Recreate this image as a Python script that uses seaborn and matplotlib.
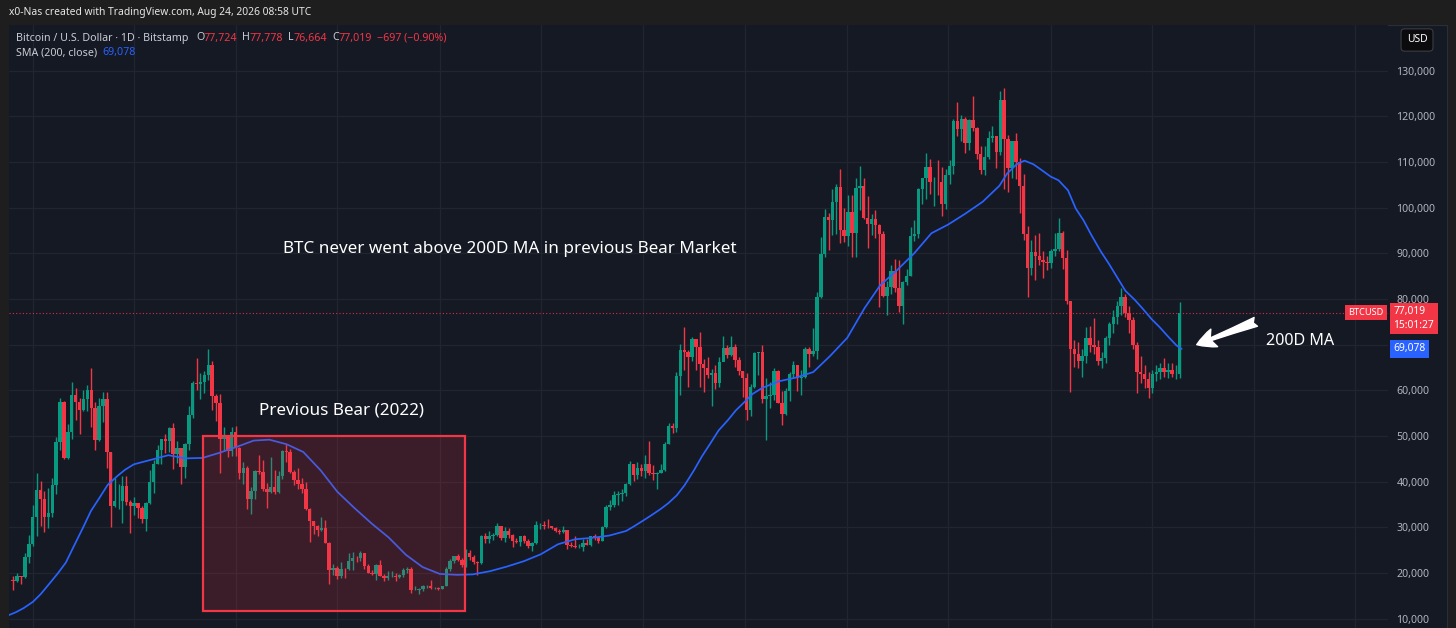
import numpy as np
import pandas as pd
import matplotlib
matplotlib.use("Agg")
import matplotlib.pyplot as plt
import matplotlib.dates as mdates
from matplotlib.patches import Rectangle
from matplotlib.ticker import FuncFormatter
import seaborn as sns

# === DANE: tygodniowe świece BTC (tys. USD), tydzień kończy się w dacie z date_range ===
first_open = 18.4

close_2020 = [18.2, 19.4, 19.2, 23.5, 26.3, 32.2]
high_2020 = [19.4, 19.9, 19.4, 24.3, 28.4, 34.8]
low_2020 = [16.3, 18.0, 17.6, 19.0, 22.3, 25.9]

close_2021 = [38.2, 36.1, 32.3, 33.1, 39.3, 48.6, 57.4, 45.2, 50.9, 59.0, 57.5, 55.8, 58.2,
              60.0, 56.2, 49.1, 56.6, 58.2, 46.4, 34.7, 35.7, 35.8, 39.1, 35.5, 34.7, 35.3,
              34.2, 31.8, 35.4, 39.9, 43.8, 47.0, 49.3, 48.8, 51.8, 46.0, 47.3, 43.2, 48.2,
              54.6, 61.5, 61.3, 61.9, 63.3, 65.5, 58.7, 57.2, 49.4, 50.1, 46.7, 50.8, 47.3]
high_2021 = [41.9, 40.1, 37.9, 38.6, 40.9, 49.7, 58.3, 57.6, 52.6, 61.8, 60.6, 58.4, 60.1,
             61.2, 64.9, 57.4, 58.4, 59.6, 59.6, 46.6, 40.9, 39.5, 41.3, 41.3, 36.0, 36.6,
             35.1, 34.6, 35.5, 42.5, 44.8, 48.1, 49.4, 50.5, 52.0, 52.9, 48.8, 47.3, 48.5,
             56.6, 62.0, 67.0, 63.7, 64.3, 69.0, 66.4, 59.3, 59.2, 51.9, 50.2, 51.9, 52.1]
low_2021 = [28.0, 30.4, 28.9, 29.9, 32.3, 37.4, 47.0, 44.9, 45.0, 49.3, 53.5, 50.4, 55.5,
            55.5, 52.0, 47.0, 48.8, 53.0, 42.9, 30.0, 34.5, 34.0, 31.0, 34.8, 28.8, 32.7,
            32.1, 31.0, 29.3, 35.2, 37.5, 43.8, 43.9, 46.3, 46.5, 42.8, 44.0, 39.6, 40.8,
            46.9, 54.0, 60.0, 58.0, 59.4, 62.3, 55.6, 53.2, 42.0, 46.8, 45.5, 45.6, 45.7]

close_2022 = [41.8, 43.1, 36.3, 37.9, 42.4, 42.2, 38.4, 37.7, 38.8, 37.8, 41.3, 46.8, 46.4,
              42.2, 40.4, 39.5, 38.5, 34.1, 31.3, 30.3, 29.4, 29.9, 26.6, 20.6, 21.0, 19.3,
              20.9, 20.8, 22.6, 23.3, 23.2, 24.3, 21.5, 20.0, 19.8, 21.8, 19.4, 18.8, 19.3,
              19.4, 19.2, 19.6, 20.6, 20.9, 16.3, 16.3, 16.5, 17.1, 17.1, 16.7, 16.8, 16.6]
high_2022 = [47.5, 44.4, 43.5, 38.9, 42.6, 45.8, 44.7, 39.8, 45.4, 42.5, 42.3, 46.9, 48.2,
             47.2, 42.5, 42.9, 40.8, 40.0, 34.2, 31.4, 30.6, 32.2, 31.7, 26.8, 21.9, 21.5,
             22.4, 21.0, 24.3, 24.6, 23.7, 24.9, 24.4, 22.0, 20.6, 21.9, 22.8, 19.7, 20.4,
             20.4, 19.9, 19.7, 21.0, 21.4, 21.4, 17.2, 16.8, 17.3, 17.4, 18.4, 17.0, 16.9]
low_2022 = [40.6, 39.6, 34.0, 32.9, 36.3, 41.7, 38.0, 34.3, 37.5, 37.2, 37.6, 40.5, 44.2,
            41.9, 39.2, 38.5, 37.6, 33.8, 26.7, 28.6, 28.0, 29.3, 26.5, 17.6, 19.6, 18.7,
            19.0, 18.9, 20.7, 20.7, 22.4, 22.7, 20.8, 19.9, 19.6, 18.5, 19.3, 18.2, 18.5,
            19.2, 18.2, 18.9, 19.2, 20.1, 15.6, 16.2, 15.5, 16.0, 16.8, 16.5, 16.4, 16.3]

close_2023 = [17.1, 20.9, 22.7, 23.7, 22.9, 21.8, 24.3, 23.6, 22.4, 22.1, 28.0, 27.5, 28.2,
              28.3, 30.3, 27.6, 29.2, 28.4, 27.0, 26.8, 28.0, 27.1, 25.9, 26.5, 30.5, 30.6,
              30.3, 30.2, 29.9, 29.3, 29.0, 29.4, 26.1, 26.0, 25.8, 25.8, 26.5, 26.2, 28.0,
              27.9, 27.1, 30.0, 34.5, 35.0, 37.1, 37.3, 37.5, 39.5, 43.8, 41.4, 43.0, 42.3]
high_2023 = [17.2, 21.3, 23.0, 23.8, 24.2, 23.3, 25.2, 25.1, 23.9, 22.6, 28.4, 28.8, 29.2,
             28.8, 31.0, 30.4, 30.0, 29.8, 28.6, 27.6, 28.2, 28.4, 27.4, 26.8, 31.4, 31.0,
             31.4, 31.8, 30.4, 30.0, 29.7, 30.2, 29.5, 26.8, 28.1, 26.4, 27.4, 27.5, 28.1,
             28.6, 27.9, 30.3, 35.0, 35.9, 38.0, 37.9, 38.4, 39.8, 44.5, 43.9, 44.4, 43.8]
low_2023 = [16.6, 17.1, 20.4, 22.3, 22.6, 21.4, 21.4, 22.8, 21.9, 19.6, 21.9, 26.6, 26.5,
            27.2, 28.2, 27.2, 26.9, 27.7, 25.8, 26.6, 25.9, 26.5, 25.4, 24.8, 26.3, 29.6,
            29.7, 29.9, 29.6, 29.0, 28.6, 28.8, 25.2, 25.8, 25.4, 25.4, 24.9, 26.1, 26.0,
            27.3, 26.6, 27.1, 29.9, 33.9, 34.5, 34.8, 35.7, 36.9, 39.2, 40.2, 40.6, 41.3]

close_2024 = [43.9, 41.8, 41.6, 42.0, 42.6, 48.3, 52.1, 51.7, 63.1, 68.9, 68.3, 67.2, 71.3,
              69.4, 65.7, 64.9, 63.4, 63.9, 61.5, 66.3, 69.3, 67.8, 69.6, 66.6, 64.2, 62.7,
              55.8, 60.8, 68.2, 68.3, 58.1, 58.7, 58.9, 64.2, 57.3, 54.8, 59.9, 63.6, 65.6,
              62.8, 62.9, 69.0, 68.0, 68.7, 80.4, 89.9, 97.9, 97.2, 101.2, 104.5, 95.2, 93.7, 99.0]
high_2024 = [45.9, 49.0, 43.6, 42.2, 43.9, 48.6, 52.8, 52.9, 64.0, 70.1, 73.8, 68.9, 71.7,
             71.3, 72.8, 66.8, 67.2, 64.7, 65.5, 67.4, 71.9, 70.0, 71.9, 70.2, 67.2, 64.3,
             63.8, 61.3, 68.4, 68.5, 70.0, 62.7, 61.8, 65.0, 64.5, 59.8, 60.6, 64.1, 66.5,
             65.6, 64.5, 69.4, 69.5, 73.6, 81.5, 93.5, 99.6, 98.9, 104.0, 105.2, 108.4, 99.9, 102.7]
low_2024 = [40.8, 41.5, 40.3, 38.5, 41.8, 42.3, 48.2, 50.6, 50.9, 59.0, 64.5, 60.8, 66.5,
            64.5, 60.7, 59.6, 62.8, 56.6, 60.2, 60.8, 66.6, 67.1, 67.6, 65.1, 63.4, 58.5,
            53.5, 54.3, 60.6, 63.4, 57.2, 49.1, 56.1, 57.9, 57.2, 52.5, 54.6, 57.6, 62.7,
            59.8, 58.9, 62.6, 65.1, 67.5, 66.8, 80.2, 89.3, 90.8, 94.0, 94.2, 92.2, 92.5, 91.5]

close_2025 = [94.5, 104.4, 104.7, 97.7, 96.5, 97.5, 96.3, 94.2, 80.7, 82.6, 86.1, 82.4, 78.4,
              83.7, 85.0, 93.7, 94.3, 104.1, 106.4, 109.0, 105.7, 105.7, 105.6, 100.9, 107.1, 109.2,
              119.0, 117.3, 119.4, 114.2, 119.3, 117.4, 111.8, 108.3, 111.1, 115.3, 115.7, 112.2, 123.5,
              115.1, 108.6, 114.5, 110.0, 104.7, 94.2, 86.8, 90.4, 89.5, 88.5, 88.0, 87.8, 90.5]
high_2025 = [102.7, 106.4, 109.1, 106.4, 102.5, 98.6, 99.5, 96.5, 95.0, 84.0, 87.5, 88.8, 88.5,
             84.0, 86.5, 95.8, 97.4, 104.3, 106.5, 111.9, 110.7, 106.8, 110.4, 108.9, 108.5, 110.5,
             119.5, 123.2, 120.2, 119.8, 119.4, 124.5, 117.6, 113.5, 113.4, 116.8, 117.9, 115.8, 125.6,
             126.2, 116.0, 114.6, 116.4, 110.8, 107.4, 96.0, 93.0, 94.0, 94.4, 90.5, 89.5, 91.0]
low_2025 = [89.3, 89.3, 99.5, 97.5, 91.2, 94.1, 93.4, 78.2, 80.5, 76.6, 81.2, 81.6, 77.2,
            74.5, 83.0, 85.1, 92.8, 93.4, 100.8, 102.0, 103.1, 100.4, 102.7, 98.2, 99.6, 105.2,
            107.4, 115.7, 114.7, 112.0, 112.7, 116.8, 110.6, 107.3, 107.2, 110.6, 114.4, 108.6, 111.6,
            104.0, 103.5, 106.6, 106.3, 98.9, 93.0, 80.5, 85.2, 84.2, 87.5, 84.6, 86.4, 86.8]

close_2026 = [91.0, 94.5, 89.0, 79.5, 69.0, 68.0, 66.5, 67.5, 71.5, 70.0, 69.5, 66.5, 67.0,
              71.5, 74.5, 76.0, 78.5, 80.5, 77.0, 75.5, 70.0, 64.0, 63.5, 62.5, 60.5, 63.5,
              64.0, 65.0, 64.0, 64.5, 63.5, 63.5, 77.0]
high_2026 = [94.4, 97.7, 95.0, 90.7, 79.5, 71.0, 70.5, 69.0, 73.9, 74.0, 75.8, 71.0, 68.5,
             72.0, 75.0, 77.5, 79.5, 82.5, 81.0, 78.5, 76.0, 70.5, 67.5, 65.5, 64.0, 64.5,
             65.5, 66.0, 67.0, 66.0, 66.0, 65.5, 79.3]
low_2026 = [89.5, 90.5, 86.5, 79.0, 59.7, 65.2, 65.0, 62.9, 66.0, 68.5, 68.0, 65.5, 65.0,
            66.0, 70.0, 72.5, 74.5, 76.5, 76.0, 72.5, 69.0, 59.4, 61.5, 60.5, 58.3, 59.5,
            62.0, 62.5, 63.0, 62.8, 63.0, 62.5, 62.7]

# SMA 200 (tys. USD)
sma_dates = ["2020-11-19", "2020-12-01", "2020-12-15", "2021-01-01", "2021-01-15", "2021-02-01",
             "2021-02-15", "2021-03-01", "2021-03-15", "2021-04-01", "2021-04-15", "2021-05-01",
             "2021-05-15", "2021-06-01", "2021-06-15", "2021-07-01", "2021-08-01", "2021-09-01",
             "2021-10-01", "2021-11-01", "2021-12-01", "2022-01-01", "2022-02-01", "2022-03-01",
             "2022-04-01", "2022-05-01", "2022-06-01", "2022-07-01", "2022-08-01", "2022-09-01",
             "2022-10-01", "2022-11-01", "2022-12-01", "2023-01-01", "2023-02-01", "2023-03-01",
             "2023-04-01", "2023-05-01", "2023-06-01", "2023-07-01", "2023-08-01", "2023-09-01",
             "2023-10-01", "2023-11-01", "2023-12-01", "2023-12-15", "2024-01-01", "2024-01-15",
             "2024-02-01", "2024-02-15", "2024-03-01", "2024-03-15", "2024-04-01", "2024-04-15",
             "2024-05-01", "2024-05-15", "2024-06-01", "2024-06-15", "2024-07-01", "2024-07-15",
             "2024-08-01", "2024-09-01", "2024-10-01", "2024-11-01", "2024-12-01", "2025-01-01",
             "2025-02-01", "2025-03-01", "2025-04-01", "2025-05-01", "2025-06-01", "2025-07-01",
             "2025-08-01", "2025-09-01", "2025-10-01", "2025-10-15", "2025-11-01", "2025-11-15",
             "2025-12-01", "2025-12-15", "2026-01-01", "2026-01-15", "2026-02-01", "2026-02-15",
             "2026-03-01", "2026-03-15", "2026-04-01", "2026-04-15", "2026-05-01", "2026-05-15",
             "2026-06-01", "2026-06-15", "2026-07-01", "2026-07-15", "2026-08-01", "2026-08-15",
             "2026-08-24"]
sma_vals = [10.8, 11.4, 12.3, 13.7, 15.4, 17.9,
            20.0, 22.3, 25.8, 30.0, 33.6, 36.6,
            39.3, 41.2, 42.6, 43.8, 44.8, 45.8,
            45.1, 45.2, 46.3, 47.6, 49.0, 49.2,
            48.2, 46.5, 42.5, 37.8, 34.2, 30.8,
            27.8, 24.0, 21.3, 19.8, 19.6, 19.7,
            20.4, 21.4, 22.6, 24.1, 26.3, 27.4,
            27.7, 28.2, 29.2, 30.2, 31.5, 32.6,
            34.0, 35.3, 37.0, 39.2, 42.5, 45.5,
            48.5, 51.2, 53.5, 55.6, 57.5, 59.2,
            60.5, 62.0, 62.8, 64.0, 67.5, 71.5,
            78.0, 83.0, 86.4, 90.0, 94.4, 96.3,
            98.7, 101.3, 104.8, 107.5, 109.5, 110.3,
            109.5, 108.3, 106.8, 106.0, 103.8, 99.8,
            97.2, 94.0, 90.4, 87.8, 84.6, 81.8,
            79.8, 77.9, 75.6, 73.9, 71.6, 69.8,
            69.078]

last_close = 77.019
last_sma = 69.078
grid_dates = ["2021-01-01", "2021-07-01", "2022-01-01", "2022-07-01", "2023-01-01", "2023-07-01",
              "2024-01-01", "2024-07-01", "2025-01-01", "2025-07-01", "2026-01-01", "2026-07-01",
              "2027-01-01", "2027-07-01"]
price_ticks = [10, 20, 30, 40, 50, 60, 70, 80, 90, 100, 110, 120, 130]

# === KOLORY / STYL ===
W, H = 1456, 628
BG = "#151924"
FRAME = "#1e1e1e"
GRID = "#21252f"
UP = "#089981"
DOWN = "#f23645"
BLUE = "#2962ff"
TXT = "#b2b5be"

sns.set_theme(style="dark", rc={"axes.facecolor": BG, "figure.facecolor": FRAME,
                                "axes.edgecolor": BG, "grid.color": GRID})
plt.rcParams["font.family"] = ["Noto Sans", "DejaVu Sans"]

close = np.array(close_2020 + close_2021 + close_2022 + close_2023 + close_2024 + close_2025 + close_2026)
high = np.array(high_2020 + high_2021 + high_2022 + high_2023 + high_2024 + high_2025 + high_2026)
low = np.array(low_2020 + low_2021 + low_2022 + low_2023 + low_2024 + low_2025 + low_2026)
opn = np.r_[first_open, close[:-1]]

week_end = pd.date_range(end="2026-08-24", periods=len(close), freq="7D")
xc = mdates.date2num((week_end - pd.Timedelta(hours=84)).to_pydatetime())
up = close >= opn
cols = np.where(up, UP, DOWN)

fig = plt.figure(figsize=(W / 100, H / 100), dpi=100)
# tło panelu z osią cen (pod osiami)
fig.patches.append(Rectangle((9 / W, 0), (1447 - 9) / W, (H - 25) / H, transform=fig.transFigure,
                             facecolor=BG, edgecolor="#2a2e39", lw=0.8, zorder=-10))
ax = fig.add_axes([9 / W, 0, (1388 - 9) / W, (H - 25) / H], zorder=1)

# === ŚWIECE ===
ax.vlines(xc, low, high, colors=cols, lw=1.0, zorder=2)
ax.bar(xc, np.abs(close - opn), bottom=np.minimum(close, opn), width=6.2, color=cols, linewidth=0, zorder=2.1)

# === SMA 200 ===
sma_x = mdates.date2num(pd.to_datetime(sma_dates).to_pydatetime())
sns.lineplot(x=sma_x, y=sma_vals, color=BLUE, lw=1.25, ax=ax, zorder=3)

# linia ostatniej ceny
ax.axhline(last_close, color=DOWN, ls=(0, (1, 2)), lw=0.8, alpha=0.85, zorder=1.5)

# prostokąt "Previous Bear"
r0 = mdates.date2num(pd.Timestamp("2021-11-02"))
r1 = mdates.date2num(pd.Timestamp("2023-02-15"))
ax.add_patch(Rectangle((r0, 11.7), r1 - r0, 50.0 - 11.7, facecolor=(0.95, 0.21, 0.27, 0.17),
                       edgecolor=DOWN, lw=1.6, zorder=4))

# === OSIE ===
t0 = mdates.date2num(pd.Timestamp("2021-01-01"))
px_day = 1322 / 2372
ax.set_xlim(t0 - 24 / px_day, t0 + (1388 - 33) / px_day)
ax.set_ylim(7.96, 140.0)
ax.set_xticks(mdates.date2num(pd.to_datetime(grid_dates).to_pydatetime()))
ax.set_yticks(price_ticks)
ax.yaxis.set_major_formatter(FuncFormatter(lambda v, p: f"{v * 1000:,.0f}"))
ax.yaxis.tick_right()
ax.tick_params(axis="y", length=0, pad=6, labelsize=7.6, labelcolor=TXT)
ax.tick_params(axis="x", length=0, labelbottom=False)
ax.grid(True, color=GRID, lw=0.9)
ax.set_xlabel("")
ax.set_ylabel("")
for s in ax.spines.values():
    s.set_visible(False)

# === ETYKIETY PO PRAWEJ ===
ax.annotate("BTCUSD", xy=(1, last_close), xycoords=("axes fraction", "data"), xytext=(-3, 0),
            textcoords="offset points", ha="right", va="center", color="white", fontsize=6.6,
            fontweight="bold", bbox=dict(boxstyle="square,pad=0.35", fc=DOWN, ec="none"), zorder=6,
            annotation_clip=False)
ax.annotate("77,019\n15:01:27", xy=(1, last_close), xycoords=("axes fraction", "data"), xytext=(4, 4.5),
            textcoords="offset points", ha="left", va="top", color="white", fontsize=7.4,
            linespacing=1.3, bbox=dict(boxstyle="square,pad=0.35", fc=DOWN, ec="none"), zorder=6,
            annotation_clip=False)
ax.annotate("69,078", xy=(1, last_sma), xycoords=("axes fraction", "data"), xytext=(4, 0),
            textcoords="offset points", ha="left", va="center", color="white", fontsize=7.4,
            bbox=dict(boxstyle="square,pad=0.35", fc=BLUE, ec="none"), zorder=6,
            annotation_clip=False)

# === ADNOTACJE ===
d = lambda s: mdates.date2num(pd.Timestamp(s))
ax.text(d("2023-05-06"), 91.0, "BTC never went above 200D MA in previous Bear Market", color="white",
        fontsize=12.3, ha="center", va="center", zorder=6)
ax.text(d("2022-07-09"), 55.5, "Previous Bear (2022)", color="white", fontsize=12.3,
        ha="center", va="center", zorder=6)
ax.text(d("2027-03-25"), 70.8, "200D MA", color="white", fontsize=11.6, ha="center", va="center", zorder=6)
ax.annotate("", xy=(d("2026-09-20"), 70.0), xytext=(d("2027-01-04"), 75.0),
            arrowprops=dict(arrowstyle="fancy,head_length=0.9,head_width=0.9,tail_width=0.45",
                            fc="white", ec="white", mutation_scale=15, shrinkA=0, shrinkB=0), zorder=6)

# === NAGŁÓWEK I LEGENDA ===
def ftxt(xp, yp, s, **kw):
    fig.text(xp / W, 1 - yp / H, s, va="center", ha="left", **kw)

ftxt(9, 12, "x0-Nas created with TradingView.com, Aug 24, 2026 08:58 UTC", color="#e6e6e6",
     fontsize=7.4, fontweight="medium")
LEG = 7.7
ftxt(16, 38, "Bitcoin / U.S. Dollar · 1D · Bitstamp", color="#c9ccd3", fontsize=LEG)
for xp, lab, xv, val in [(196, "O", 203, "77,724"), (242, "H", 249, "77,778"),
                         (288, "L", 293, "76,664"), (332, "C", 338, "77,019")]:
    ftxt(xp, 38, lab, color="#c9ccd3", fontsize=LEG)
    ftxt(xv, 38, val, color=DOWN, fontsize=LEG)
ftxt(377, 38, "−697 (−0.90%)", color=DOWN, fontsize=LEG)
ftxt(16, 53, "SMA (200, close)", color="#c9ccd3", fontsize=LEG)
ftxt(102, 53, "69,078", color=BLUE, fontsize=LEG)
fig.text(1417 / W, 1 - 40 / H, "USD", color="white", fontsize=7.4, ha="center", va="center",
         bbox=dict(boxstyle="round,pad=0.55,rounding_size=0.35", fc="#0b0b0d", ec="#3b3d44", lw=0.8))

fig.savefig("out.png", dpi=100, facecolor=FRAME)
